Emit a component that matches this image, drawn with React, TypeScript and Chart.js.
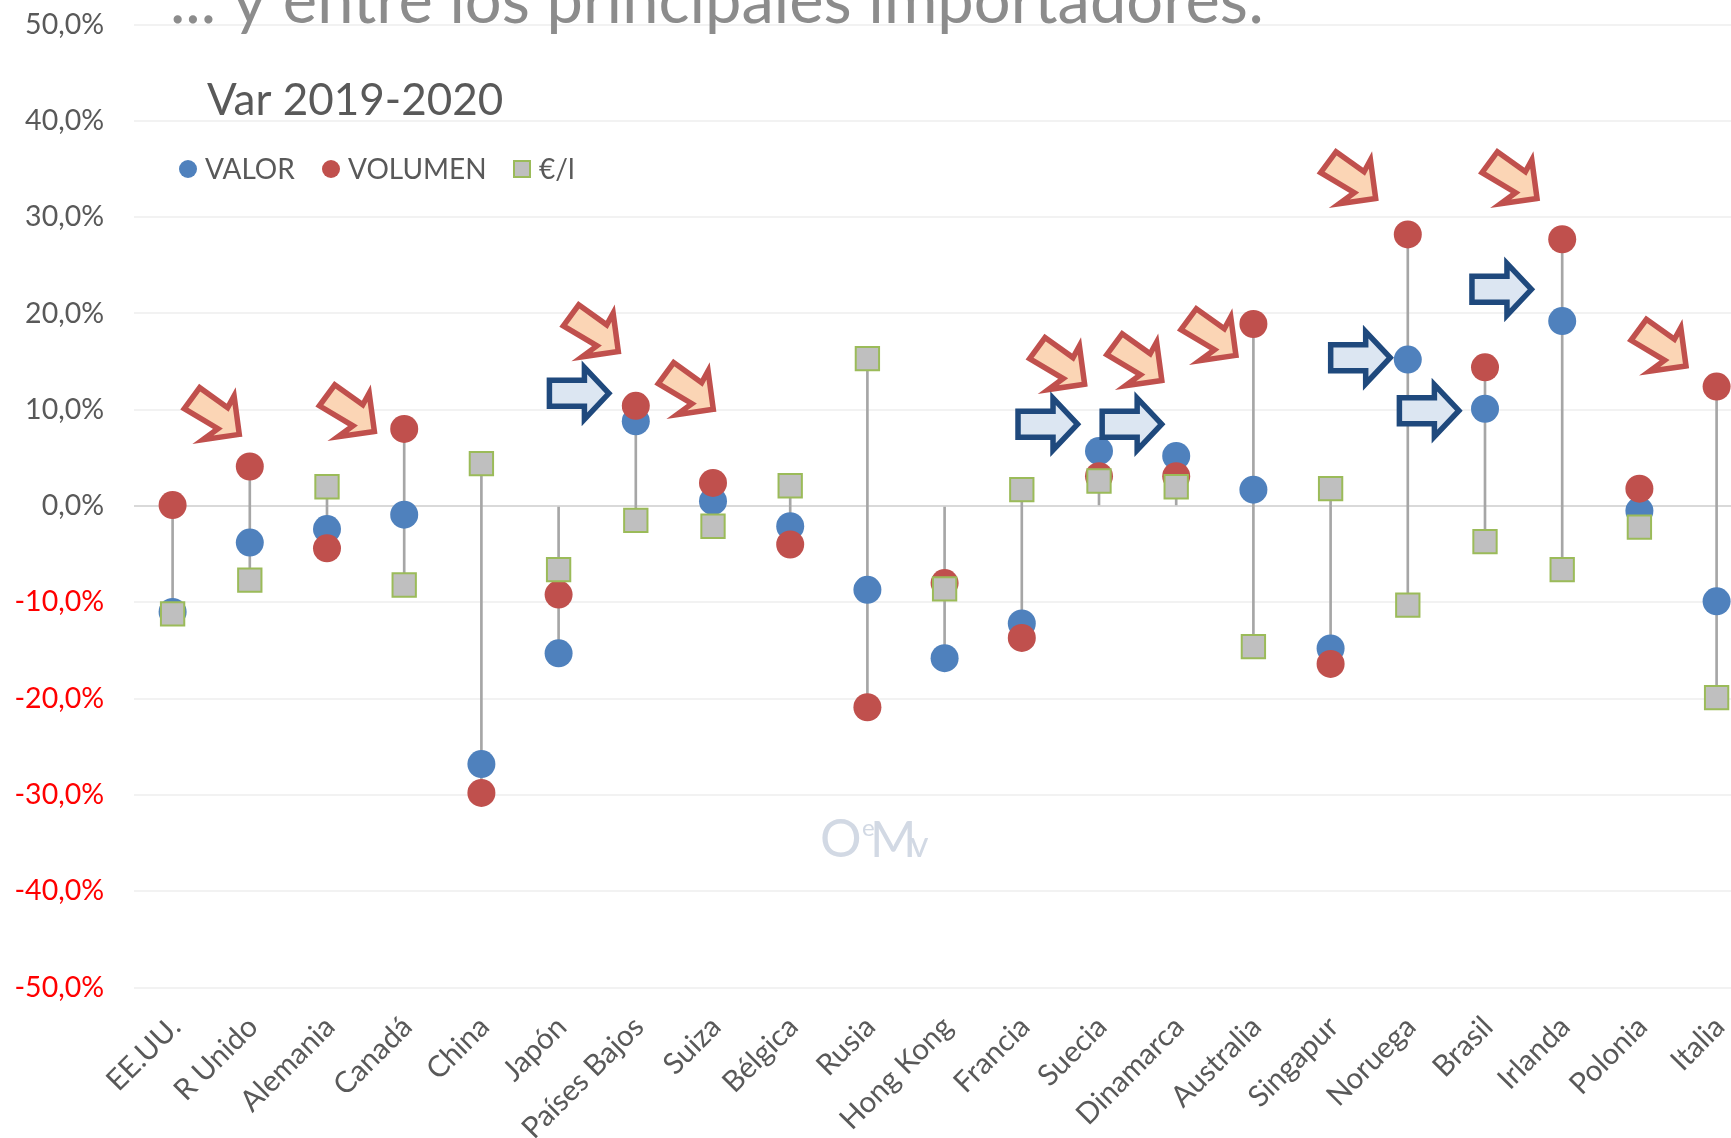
import React, { useEffect, useRef } from "react";
import { Chart, registerables } from "chart.js";

Chart.register(...registerables);

const categories = ["EE.UU.", "R Unido", "Alemania", "Canadá", "China", "Japón", "Países Bajos", "Suiza", "Bélgica", "Rusia", "Hong Kong", "Francia", "Suecia", "Dinamarca", "Australia", "Singapur", "Noruega", "Brasil", "Irlanda", "Polonia", "Italia"];
const valor = [-11.0, -3.8, -2.4, -0.9, -26.8, -15.3, 8.8, 0.5, -2.1, -8.7, -15.8, -12.2, 5.7, 5.2, 1.7, -14.8, 15.2, 10.1, 19.2, -0.5, -9.9];
const volumen = [0.1, 4.1, -4.4, 8.0, -29.8, -9.2, 10.4, 2.4, -4.0, -20.9, -8.0, -13.7, 3.1, 3.1, 18.9, -16.4, 28.2, 14.4, 27.7, 1.8, 12.4];
const precio = [-11.2, -7.7, 2.0, -8.2, 4.4, -6.6, -1.5, -2.1, 2.1, 15.3, -8.6, 1.7, 2.6, 2.0, -14.6, 1.8, -10.3, -3.7, -6.6, -2.2, -19.9];
const yTicks = [-50, -40, -30, -20, -10, 0, 10, 20, 30, 40, 50];

const mainTitle = "... y entre los principales importadores:";
const subTitle = "Var 2019-2020";
const seriesLabels = ["VALOR", "VOLUMEN", "€/l"];

// Call-out arrows, their tips given in axis units (category position, % value)
const redArrowTips = [[0.9, 7.2], [2.65, 7.5], [5.81, 15.8], [7.04, 9.8], [11.85, 12.4], [12.85, 12.8], [13.81, 15.4], [15.62, 31.7], [17.71, 31.7], [19.64, 14.3]];
const blueArrowTips = [[5.71, 11.7], [11.78, 8.5], [12.87, 8.5], [15.83, 15.4], [16.72, 9.9], [17.66, 22.5]];

const BLUE = "#4F81BD";
const RED = "#C0504D";
const SQUARE = "#BFBFBF";
const SQUARE_EDGE = "#9BBB59";
const TEXT = "#595959";
const FONT = "Lato";

function poly(ctx: CanvasRenderingContext2D, x: number, y: number, pts: number[][], fill: string, stroke: string, lw: number) {
  ctx.beginPath();
  pts.forEach(([dx, dy], i) => (i ? ctx.lineTo(x + dx, y + dy) : ctx.moveTo(x + dx, y + dy)));
  ctx.closePath();
  ctx.lineJoin = "miter";
  ctx.miterLimit = 10;
  ctx.fillStyle = fill;
  ctx.fill();
  ctx.lineWidth = lw;
  ctx.strokeStyle = stroke;
  ctx.stroke();
}

const overlay = {
  id: "overlay",
  afterDraw(chart: any) {
    const { ctx, scales } = chart;
    ctx.save();
    ctx.textBaseline = "alphabetic";
    ctx.textAlign = "left";

    ctx.fillStyle = "#8C8C8C";
    ctx.font = `65px ${FONT}`;
    ctx.fillText(mainTitle, 170, 22.5);

    ctx.fillStyle = TEXT;
    ctx.font = `44px ${FONT}`;
    ctx.fillText(subTitle, 207, 115);

    // legend, drawn from the datasets
    const slots = [188, 331, 522];
    const ly = 169;
    ctx.font = `28px ${FONT}`;
    seriesLabels.forEach((label, i) => {
      const x = slots[i];
      if (i < 2) {
        ctx.beginPath();
        ctx.arc(x, ly, 9, 0, Math.PI * 2);
        ctx.fillStyle = i === 0 ? BLUE : RED;
        ctx.fill();
      } else {
        ctx.fillStyle = SQUARE;
        ctx.strokeStyle = SQUARE_EDGE;
        ctx.lineWidth = 2;
        ctx.fillRect(x - 8, ly - 8, 16, 16);
        ctx.strokeRect(x - 8, ly - 8, 16, 16);
      }
      ctx.fillStyle = TEXT;
      ctx.fillText(label, x + 17, ly + 10);
    });

    // watermark
    ctx.fillStyle = "#D2D9E4";
    ctx.font = `400 52px ${FONT}`;
    ctx.fillText("O", 820, 857);
    ctx.font = `400 24px ${FONT}`;
    ctx.fillText("e", 862, 836);
    ctx.font = `400 50px ${FONT}`;
    ctx.fillText("M", 870, 857);
    ctx.font = `400 36px ${FONT}`;
    ctx.fillText("v", 910, 857);

    const redShape = [[-2.8, -2.3], [-39.2, 3], [-24.2, -8], [-57.8, -28], [-42.4, -49], [-14.4, -29], [-8, -40.7]];
    const blueShape = [[-4.5, 0], [-29, -26], [-29, -13], [-64, -13], [-64, 13], [-29, 13], [-29, 26]];
    redArrowTips.forEach(([c, v]) =>
      poly(ctx, scales.x.getPixelForValue(c), scales.y.getPixelForValue(v), redShape, "#FBD5B5", RED, 5.5));
    blueArrowTips.forEach(([c, v]) =>
      poly(ctx, scales.x.getPixelForValue(c), scales.y.getPixelForValue(v), blueShape, "#DCE6F2", "#1F497D", 5.5));
    ctx.restore();
  },
};

export default function App() {
  const ref = useRef<HTMLCanvasElement>(null);
  useEffect(() => {
    const ranges = categories.map((_, i) => {
      const all = [0, valor[i], volumen[i], precio[i]];
      return [Math.min(...all), Math.max(...all)];
    });
    const chart = new Chart(ref.current as HTMLCanvasElement, {
      type: "bar",
      data: {
        labels: categories,
        datasets: [
          { type: "bar", label: "rango", data: ranges as any, backgroundColor: "#A6A6A6", barThickness: 2, order: 4 },
          { type: "line", label: seriesLabels[0], data: valor, showLine: false, pointStyle: "circle", pointRadius: 14, pointBorderWidth: 0, pointBackgroundColor: BLUE, order: 3 },
          { type: "line", label: seriesLabels[1], data: volumen, showLine: false, pointStyle: "circle", pointRadius: 14, pointBorderWidth: 0, pointBackgroundColor: RED, order: 2 },
          { type: "line", label: seriesLabels[2], data: precio, showLine: false, pointStyle: "rect", pointRadius: 16.5, pointBorderWidth: 2, pointBackgroundColor: SQUARE, pointBorderColor: SQUARE_EDGE, order: 1 },
        ],
      } as any,
      options: {
        responsive: false,
        animation: false,
        layout: { autoPadding: false, padding: { top: 24.5, right: 4.8, left: 0, bottom: 0 } },
        plugins: { legend: { display: false }, title: { display: false }, tooltip: { enabled: false } },
        scales: {
          x: {
            offset: true,
            afterFit: (s: any) => { s.height = 150.5; },
            grid: { display: false },
            border: { display: false },
            ticks: {
              autoSkip: false, minRotation: 45, maxRotation: 45, padding: 14, labelOffset: 3,
              color: TEXT, font: { family: FONT, size: 29.5 },
            },
          },
          y: {
            min: -50, max: 50,
            afterFit: (s: any) => { s.width = 134; s.paddingTop = 0; s.paddingBottom = 0; },
            afterBuildTicks: (s: any) => { s.ticks = yTicks.map((value) => ({ value })); },
            grid: {
              drawTicks: false, lineWidth: 2,
              color: (c: any) => (c.tick && c.tick.value === 0 ? "#D9D9D9" : "#F2F2F2"),
            },
            border: { display: false },
            ticks: {
              padding: 30,
              font: { family: FONT, size: 28.5 },
              color: (c: any) => (c.tick && c.tick.value < 0 ? "#FF0000" : TEXT),
              callback: (v: any) => `${Number(v).toFixed(1).replace(".", ",")}%`,
            },
          },
        },
      },
      plugins: [overlay],
    } as any);
    return () => chart.destroy();
  }, []);
  return (
    <div style={{ position: "absolute", left: 0, top: 0, width: 1731, height: 1138, overflow: "hidden", background: "#fff" }}>
      <canvas ref={ref} width={1760} height={1138} style={{ display: "block" }} />
    </div>
  );
}
